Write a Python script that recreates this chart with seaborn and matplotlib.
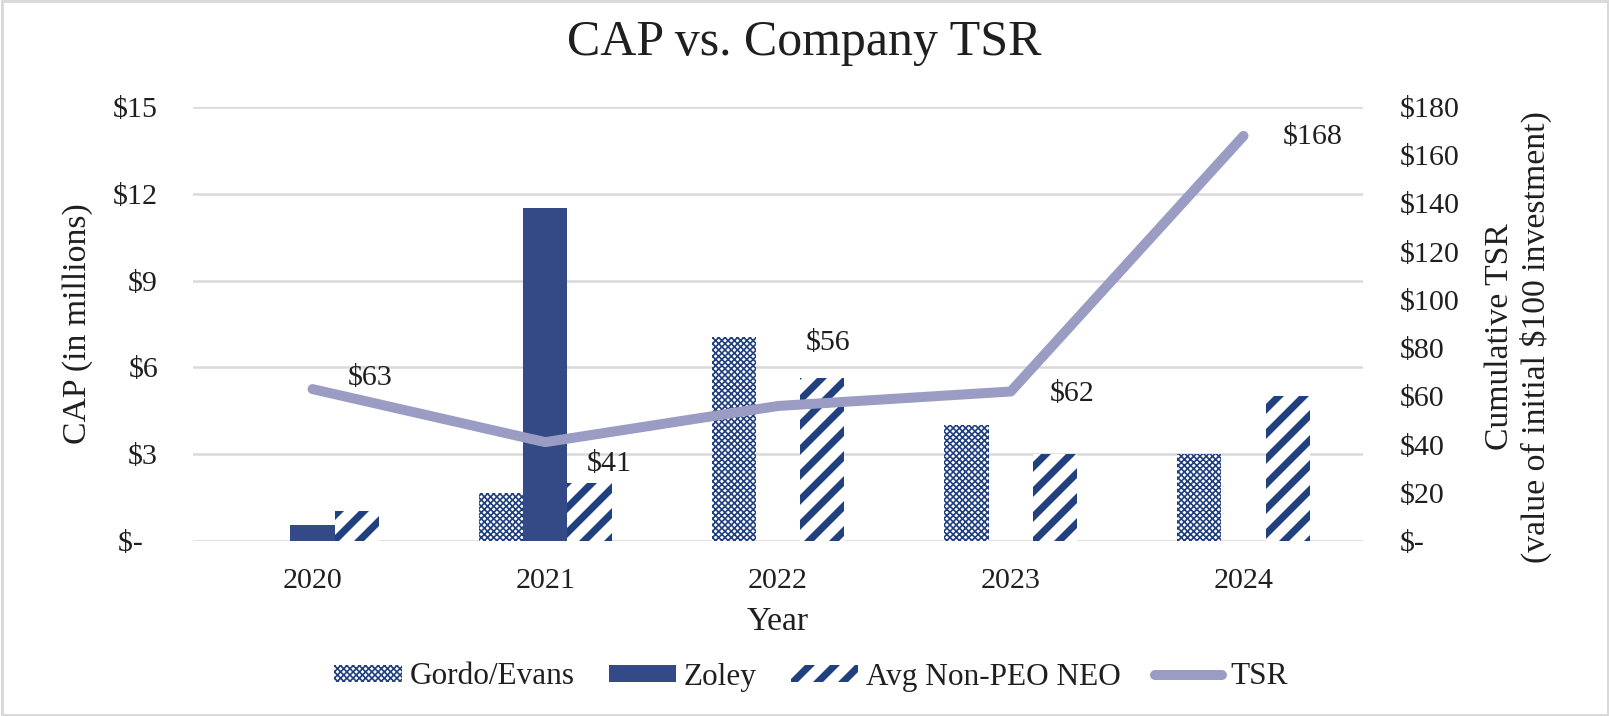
import matplotlib
matplotlib.use('Agg')
from matplotlib import pyplot as plt
from matplotlib.patches import Patch, Rectangle
from matplotlib.lines import Line2D
from matplotlib.legend_handler import HandlerPatch
from matplotlib.ticker import FuncFormatter
import pandas as pd
import seaborn as sns

# values
years = ['2020', '2021', '2022', '2023', '2024']
series = ['Gordo/Evans', 'Zoley', 'Avg Non-PEO NEO']
gordo_evans = [0, 1.65, 7.05, 4.0, 3.0]
zoley = [0.55, 11.5, 0, 0, 0]
avg_non_peo = [1.05, 2.0, 5.63, 3.0, 5.0]
tsr = [63, 41, 56, 62, 168]

df = pd.DataFrame({
    'Year': years * 3,
    'Series': [s for s in series for _ in years],
    'CAP': gordo_evans + zoley + avg_non_peo,
})

navy = '#21407f'
solid = '#344a86'
tsr_color = '#9a9cc4'
text_color = '#1f1f1f'
grid_color = '#d9d9d9'

checker, checker_lw = 'xxxxxxxx', 0.8
stripes, stripes_lw = '//', 3.4

sns.set_style('white')
plt.rcParams['font.family'] = ['Liberation Serif', 'DejaVu Serif']
plt.rcParams['text.color'] = text_color
plt.rcParams['axes.labelcolor'] = text_color
plt.rcParams['xtick.color'] = text_color
plt.rcParams['ytick.color'] = text_color

fig = plt.figure(figsize=(1610 / 150, 716 / 150), dpi=150)
ax = fig.add_axes([0.1199, 0.2444, 0.7267, 0.6062])

sns.barplot(data=df, x='Year', y='CAP', hue='Series', hue_order=series,
            palette=['white', solid, 'white'], width=0.57, gap=0,
            saturation=1, legend=False, ax=ax)

# bar styles: checker, solid, wide stripes
styles = [(checker, checker_lw), (None, None), (stripes, stripes_lw)]
for container, (hatch, hlw) in zip(ax.containers, styles):
    for bar in container:
        bar.set_linewidth(0)
        if hatch:
            bar.set_facecolor('white')
            bar.set_edgecolor(navy)
            bar.set_hatch(hatch)
            if hasattr(bar, 'set_hatch_linewidth'):
                bar.set_hatch_linewidth(hlw)

ax.set_ylim(0, 15)
ax.set_yticks(range(0, 16, 3))
ax.yaxis.set_major_formatter(FuncFormatter(lambda v, p: '$-  ' if v == 0 else f'${v:.0f}'))
ax.yaxis.grid(True, color=grid_color, lw=1.2)
ax.set_axisbelow(True)
ax.tick_params(axis='both', length=0, labelsize=14.4, pad=16.8)
ax.tick_params(axis='x', pad=13)
for s in ax.spines.values():
    s.set_visible(False)

ax.set_xlabel('Year', fontsize=16.2)
ax.xaxis.set_label_coords(0.5, -0.187)
ax.xaxis.label.set_va('center')
ax.set_ylabel('CAP (in millions)', fontsize=16.2)
ax.yaxis.set_label_coords(-0.099, 0.5)
ax.yaxis.label.set_va('center')

# TSR line on the secondary axis
ax2 = ax.twinx()
ax2.plot(range(len(years)), tsr, color=tsr_color, lw=4.8,
         solid_capstyle='round', solid_joinstyle='round')
ax2.set_ylim(0, 180)
ax2.set_yticks(range(0, 181, 20))
ax2.yaxis.set_major_formatter(FuncFormatter(lambda v, p: '$-' if v == 0 else f'${v:.0f}'))
ax2.tick_params(axis='y', length=0, labelsize=14.4, pad=17.5)
for s in ax2.spines.values():
    s.set_visible(False)
ax2.set_ylabel('Cumulative TSR\n(value of initial $100 investment)', fontsize=16.2)
ax2.yaxis.set_label_coords(1.1325, 0.47)
ax2.yaxis.label.set_va('center')

label_offsets = [(58, 11), (64, -22), (50, 63), (61, -2), (69, -1)]
for i, (v, off) in enumerate(zip(tsr, label_offsets)):
    ax2.annotate(f'${v}', (i, v), xytext=off, textcoords='offset pixels',
                 ha='center', va='center', fontsize=14.4, color=text_color)

fig.text(0.4995, 1 - 43 / 716, 'CAP vs. Company TSR', ha='center', va='center',
         fontsize=24, color=text_color)


def hatched_handle(hlw):
    # legend copies the patch but not its hatch width, so set it here
    def make(legend, orig_handle, xdescent, ydescent, width, height, fontsize):
        p = Rectangle((-xdescent, -ydescent), width, height)
        if hasattr(p, 'set_hatch_linewidth'):
            p.set_hatch_linewidth(hlw)
        return p
    return HandlerPatch(patch_func=make)


h_checker = Patch(facecolor='white', edgecolor=navy, hatch=checker, lw=0)
h_solid = Patch(facecolor=solid, lw=0)
h_stripes = Patch(facecolor='white', edgecolor=navy, hatch=stripes, lw=0)
h_line = Line2D([0], [0], color=tsr_color, lw=4.8, solid_capstyle='round')

fig.legend([h_checker, h_solid, h_stripes, h_line], series + ['TSR'], loc='center',
           bbox_to_anchor=(811 / 1610, 1 - 677 / 716), ncol=4, frameon=False,
           fontsize=15, handlelength=2.15, handleheight=0.45,
           handletextpad=0.25, columnspacing=1.1, borderpad=0, borderaxespad=0,
           handler_map={h_checker: hatched_handle(checker_lw),
                        h_stripes: hatched_handle(stripes_lw)})

fig.add_artist(Rectangle((0.001, 0.002), 0.998, 0.996, transform=fig.transFigure,
                         fill=False, edgecolor=grid_color, lw=1.4))

fig.savefig('out.png', dpi=150)
